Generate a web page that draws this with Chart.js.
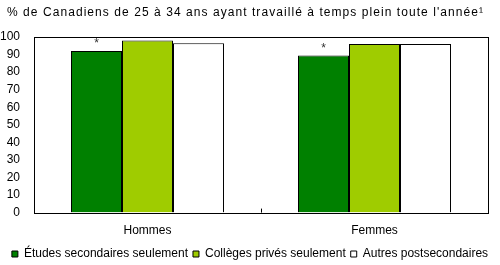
<!DOCTYPE html>
<html>
<head>
<meta charset="utf-8">
<script src="https://cdn.jsdelivr.net/npm/chart.js@4"></script>
<style>
  body { margin: 0; background: #fff; overflow: hidden; }
  #wrap { width: 500px; height: 265px; }
</style>
</head>
<body>
<div id="wrap"><canvas id="chart"></canvas></div>
<script>
// Data
const categories = ['Hommes', 'Femmes'];
const secondaires = [92, 89.5];
const collegesPrives = [98, 96];
const autresPost = [96.5, 96];
const yTicks = [0, 10, 20, 30, 40, 50, 60, 70, 80, 90, 100];
const starFlags = [true, true]; // significance marker on first series
const titleText = "% de Canadiens de 25 à 34 ans ayant travaillé à temps plein toute l'année¹";

const FONT = 'Liberation Sans, Arial, sans-serif';

// Title, frame around plot area, inner middle tick, asterisks
const framePlugin = {
    id: 'frame',
    afterDatasetsDraw(chart) {
        const ctx = chart.ctx;
        const a = chart.chartArea;
        const x = chart.scales.x;
        ctx.save();
        // title, stretched a bit like the original
        ctx.font = '12px ' + FONT;
        ctx.fillStyle = '#000';
        ctx.textAlign = 'left';
        ctx.textBaseline = 'middle';
        const w = ctx.measureText(titleText).width;
        const sp = Math.max(0, (477 - w) / titleText.length);
        ctx.letterSpacing = sp.toFixed(2) + 'px';
        ctx.fillText(titleText, 7, 13);
        ctx.letterSpacing = '0px';

        ctx.strokeStyle = '#000';
        ctx.lineWidth = 1;
        ctx.strokeRect(Math.round(a.left) + 0.5, Math.round(a.top) + 0.5,
            Math.round(a.right - a.left), Math.round(a.bottom - a.top));
        // middle tick pointing inward
        const mid = Math.round((x.getPixelForValue(0) + x.getPixelForValue(1)) / 2) + 0.5;
        ctx.beginPath();
        ctx.moveTo(mid, a.bottom);
        ctx.lineTo(mid, a.bottom - 4);
        ctx.stroke();
        // asterisks
        const meta = chart.getDatasetMeta(0);
        ctx.fillStyle = '#333';
        ctx.font = '12px ' + FONT;
        ctx.textAlign = 'center';
        ctx.textBaseline = 'bottom';
        meta.data.forEach((bar, i) => {
            if (starFlags[i]) ctx.fillText('*', bar.x, bar.y - 1);
        });
        ctx.restore();
    }
};

new Chart(document.getElementById('chart').getContext('2d'), {
    type: 'bar',
    data: {
        labels: categories,
        datasets: [
            {
                label: 'Études secondaires seulement',
                data: secondaires,
                backgroundColor: '#008000',
                borderColor: '#000',
                borderWidth: 1
            },
            {
                label: 'Collèges privés seulement',
                data: collegesPrives,
                backgroundColor: '#9fcc00',
                borderColor: '#000',
                borderWidth: 1
            },
            {
                label: 'Autres postsecondaires',
                data: autresPost,
                backgroundColor: '#ffffff',
                borderColor: '#000',
                borderWidth: 1
            }
        ]
    },
    options: {
        responsive: true,
        maintainAspectRatio: false,
        animation: false,
        categoryPercentage: 0.674,
        barPercentage: 1,
        layout: { padding: { left: 0, right: 0, top: 37, bottom: -5 } },
        plugins: {
            legend: {
                position: 'bottom',
                labels: {
                    color: '#000',
                    font: { family: FONT, size: 12 },
                    boxWidth: 6,
                    boxHeight: 6,
                    padding: 5
                }
            },
            tooltip: { enabled: false }
        },
        scales: {
            x: {
                grid: { display: false },
                border: { display: false },
                afterFit(axis) { axis.height += 2; },
                ticks: { color: '#000', font: { family: FONT, size: 12 }, padding: 3 }
            },
            y: {
                min: 0,
                max: 100,
                afterBuildTicks(axis) {
                    axis.ticks = yTicks.map(v => ({ value: v }));
                },
                afterFit(axis) { axis.width = 34; },
                grid: { display: false },
                border: { display: false },
                ticks: { color: '#000', font: { family: FONT, size: 12 }, padding: 6, autoSkip: false }
            },
            yRight: {
                position: 'right',
                afterFit(axis) { axis.width = 12; },
                grid: { display: false },
                border: { display: false },
                ticks: { display: false }
            }
        }
    },
    plugins: [framePlugin]
});
</script>
</body>
</html>
